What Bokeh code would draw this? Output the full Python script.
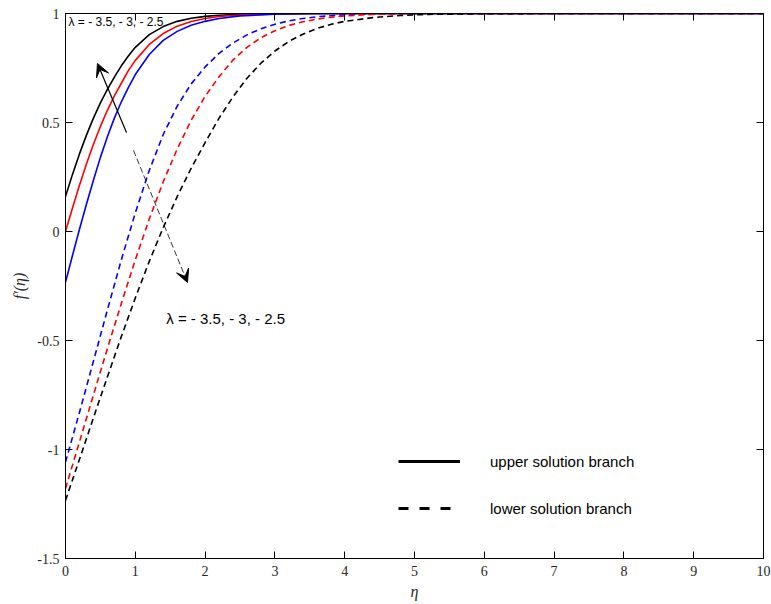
from bokeh.plotting import figure
from bokeh.models import (Range1d, FixedTicker, LinearAxis, Arrow, VeeHead, Label,
                          Legend, LegendItem, CustomJSTickFormatter, ColumnDataSource)
from bokeh.embed import file_html
from bokeh.resources import INLINE

# ---------------- data ----------------
eta_upper = [0, 0.1, 0.2, 0.3, 0.4, 0.5, 0.6, 0.7, 0.8, 0.9, 1.0, 1.2, 1.4, 1.6, 1.8, 2.0,
             2.2, 2.5, 3.0, 3.5, 4.0, 5, 6, 7, 8, 9, 10]
upper_black = [0.16, 0.262, 0.356, 0.442, 0.52, 0.59, 0.652, 0.708, 0.76, 0.805, 0.845, 0.903,
               0.94, 0.964, 0.978, 0.987, 0.992, 0.996, 0.999, 1, 1, 1, 1, 1, 1, 1, 1]
upper_red = [0.0, 0.108, 0.212, 0.31, 0.4, 0.482, 0.556, 0.622, 0.68, 0.738, 0.785, 0.858,
             0.908, 0.942, 0.963, 0.977, 0.986, 0.993, 0.998, 1, 1, 1, 1, 1, 1, 1, 1]
upper_blue = [-0.233, -0.11, 0.01, 0.125, 0.235, 0.34, 0.435, 0.52, 0.595, 0.66, 0.72, 0.812,
              0.877, 0.918, 0.946, 0.964, 0.977, 0.989, 0.997, 0.999, 1, 1, 1, 1, 1, 1, 1]

eta_lower = [0, 0.2, 0.4, 0.6, 0.8, 1.0, 1.2, 1.4, 1.6, 1.8, 2.0, 2.2, 2.4, 2.6, 2.8, 3.0,
             3.2, 3.4, 3.6, 3.8, 4.0, 4.4, 4.8, 5.2, 6, 7, 8, 9, 10]
lower_blue = [-1.058, -0.83, -0.595, -0.36, -0.13, 0.085, 0.28, 0.445, 0.575, 0.677, 0.755,
              0.817, 0.865, 0.902, 0.93, 0.951, 0.966, 0.977, 0.985, 0.99, 0.994, 0.998, 1, 1,
              1, 1, 1, 1, 1]
lower_red = [-1.179, -0.965, -0.75, -0.537, -0.33, -0.13, 0.057, 0.228, 0.378, 0.51, 0.62,
             0.71, 0.787, 0.845, 0.889, 0.921, 0.945, 0.962, 0.974, 0.983, 0.989, 0.996, 0.999,
             1, 1, 1, 1, 1, 1]
lower_black = [-1.234, -1.045, -0.855, -0.667, -0.482, -0.305, -0.137, 0.018, 0.16, 0.29,
               0.408, 0.52, 0.618, 0.703, 0.772, 0.828, 0.872, 0.905, 0.931, 0.95, 0.964,
               0.981, 0.991, 0.996, 0.999, 1, 1, 1, 1]

x_ticks = [0, 1, 2, 3, 4, 5, 6, 7, 8, 9, 10]
y_ticks = [-1.5, -1, -0.5, 0, 0.5, 1]
lambda_text = "λ = - 3.5, - 3, - 2.5"
legend_labels = ["upper solution branch", "lower solution branch"]

# ---------------- figure ----------------
p = figure(width=771, height=604, x_range=Range1d(0, 10), y_range=Range1d(-1.5, 1),
           output_backend="svg", toolbar_location=None,
           min_border_left=65, min_border_right=8, min_border_top=13, min_border_bottom=46)
p.xgrid.visible = False
p.ygrid.visible = False
p.outline_line_color = "black"
p.outline_line_width = 1
p.background_fill_color = "white"
p.border_fill_color = "white"

fmt = CustomJSTickFormatter(code="return tick.toString();")
for ax in p.xaxis + p.yaxis:
    ax.major_tick_in = 7
    ax.major_tick_out = 0
    ax.minor_tick_line_color = None
    ax.formatter = fmt
    ax.major_label_text_font = "Liberation Serif"
    ax.major_label_text_font_size = "14px"
    ax.major_label_text_color = "#262626"
    ax.axis_line_color = "black"
    ax.major_tick_line_color = "black"
p.xaxis.ticker = FixedTicker(ticks=x_ticks)
p.yaxis.ticker = FixedTicker(ticks=y_ticks)
p.xaxis.major_label_standoff = 7
p.yaxis.major_label_standoff = 6

p.xaxis.axis_label = "η"
p.xaxis.axis_label_text_font = "Liberation Serif"
p.xaxis.axis_label_text_font_style = "italic"
p.xaxis.axis_label_text_font_size = "16px"
p.xaxis.axis_label_text_color = "#262626"
p.xaxis.axis_label_standoff = 4

p.yaxis.axis_label = "f′(η)"
p.yaxis.axis_label_text_font = "Liberation Serif"
p.yaxis.axis_label_text_font_style = "italic"
p.yaxis.axis_label_text_font_size = "16px"
p.yaxis.axis_label_text_color = "#262626"
p.yaxis.axis_label_standoff = 6

# mirrored ticks (box style), no labels
blank = CustomJSTickFormatter(code="return '';")
for side, ticks in (("above", x_ticks), ("right", y_ticks)):
    ax = LinearAxis(ticker=FixedTicker(ticks=ticks), major_tick_in=7, major_tick_out=0,
                    minor_tick_line_color=None, formatter=blank,
                    major_label_standoff=0, axis_line_color="black")
    p.add_layout(ax, side)

# ---------------- curves ----------------
lw = 1.6
dash = "6 4"
p.line(eta_upper, upper_black, line_color="black", line_width=lw)
p.line(eta_upper, upper_red, line_color="red", line_width=lw)
p.line(eta_upper, upper_blue, line_color="blue", line_width=lw)
p.line(eta_lower, lower_blue, line_color="blue", line_width=lw, line_dash=dash)
p.line(eta_lower, lower_red, line_color="red", line_width=lw, line_dash=dash)
p.line(eta_lower, lower_black, line_color="black", line_width=lw, line_dash=dash)

# ---------------- annotations ----------------
p.add_layout(Arrow(end=VeeHead(size=13, fill_color="black", line_color="black"),
                   x_start=0.874, y_start=0.454, x_end=0.458, y_end=0.771,
                   line_color="black", line_width=1.2))
p.add_layout(Arrow(end=VeeHead(size=13, fill_color="black", line_color="black"),
                   x_start=0.974, y_start=0.372, x_end=1.748, y_end=-0.234,
                   line_color="black", line_width=0.8, line_dash="6 3"))

p.add_layout(Label(x=0.043, y=0.959, text=lambda_text, text_font="Liberation Sans",
                   text_font_size="12px", text_baseline="middle", text_align="left",
                   text_color="black"))
p.add_layout(Label(x=1.443, y=-0.399, text=lambda_text, text_font="Liberation Sans",
                   text_font_size="15px", text_baseline="middle", text_align="left",
                   text_color="black"))

# ---------------- legend (key-only renderers, nothing plotted) ----------------
nan = float("nan")
key_src = ColumnDataSource(data=dict(x=[nan], y=[nan]))
leg_solid = p.line("x", "y", source=key_src, line_color="black", line_width=3)
leg_dash = p.line("x", "y", source=key_src, line_color="black", line_width=3,
                  line_dash="10 11")
legend = Legend(items=[LegendItem(label=legend_labels[0], renderers=[leg_solid]),
                       LegendItem(label=legend_labels[1], renderers=[leg_dash])],
                location=(333, 40), glyph_width=62, glyph_height=20, label_height=20,
                spacing=27, label_standoff=30, padding=0, margin=0,
                border_line_color=None, background_fill_alpha=0,
                label_text_font="Liberation Sans", label_text_font_size="15px",
                label_text_color="black")
p.add_layout(legend)

open("out.html", "w").write(file_html(p, INLINE))
